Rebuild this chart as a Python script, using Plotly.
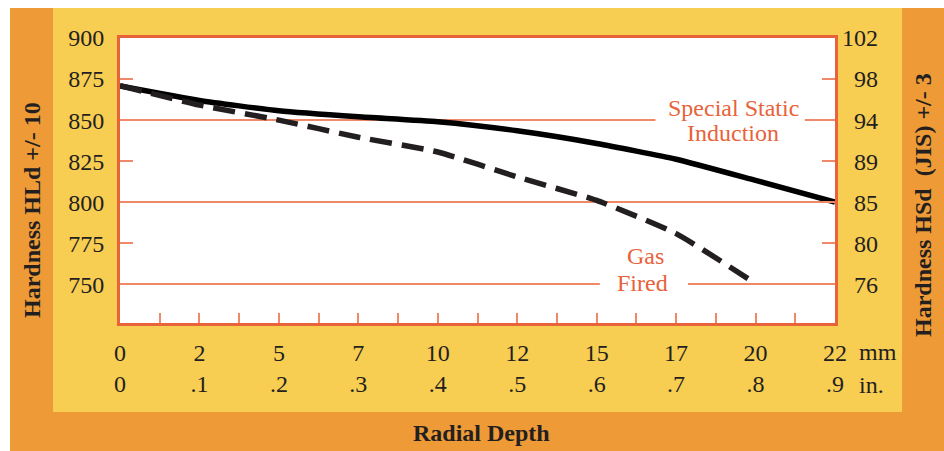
import plotly.graph_objects as go

# ---- data ----
depth_in = [0, 0.1, 0.2, 0.3, 0.4, 0.5, 0.6, 0.7, 0.8, 0.9]
mm_labels = ["0", "2", "5", "7", "10", "12", "15", "17", "20", "22"]
in_labels = ["0", ".1", ".2", ".3", ".4", ".5", ".6", ".7", ".8", ".9"]

induction_hld = [870.8, 862.0, 855.7, 852.0, 849.0, 843.5, 835.8, 826.2, 813.3, 800.1]
gas_depth_in = [0, 0.1, 0.2, 0.3, 0.4, 0.5, 0.6, 0.7, 0.8]
gas_hld = [871.0, 859.2, 850.0, 839.6, 830.6, 815.4, 801.1, 780.9, 750.5]

hld_ticks = [750, 775, 800, 825, 850, 875, 900]
hsd_labels = ["76", "80", "85", "89", "94", "98", "102"]
grid_vals = [750, 800, 850]

# ---- styles ----
ORANGE = "#EE9A36"
YELLOW = "#F7CD52"
AXIS_RED = "#E8623A"
GRID = "#F0896A"
TXT = "#231F20"
FONT = "Liberation Serif"

fig = go.Figure()

fig.add_trace(go.Scatter(
    x=depth_in, y=induction_hld, mode="lines",
    line=dict(color="black", width=5.5, shape="spline", smoothing=0.5),
    showlegend=False, hoverinfo="skip"))
fig.add_trace(go.Scatter(
    x=gas_depth_in, y=gas_hld, mode="lines",
    line=dict(color=TXT, width=5.5, shape="spline", smoothing=0.5, dash="22px,10px"),
    showlegend=False, hoverinfo="skip"))
# invisible trace to anchor the right axis
fig.add_trace(go.Scatter(x=[0], y=[800], yaxis="y2", mode="markers",
                         marker=dict(opacity=0), showlegend=False, hoverinfo="skip"))

W, H = 944, 451
L, R, T, B = 120, 835, 38, 323
pw, ph = R - L, B - T

def px_x(p):
    return (p - L) / pw

def px_y(p):
    return (B - p) / ph

shapes = [
    # orange frame
    dict(type="rect", xref="paper", yref="paper", x0=px_x(10), x1=px_x(960),
         y0=px_y(8), y1=px_y(470), fillcolor=ORANGE, line=dict(width=0), layer="below"),
    # yellow panel
    dict(type="rect", xref="paper", yref="paper", x0=px_x(53), x1=px_x(902),
         y0=px_y(8), y1=px_y(412), fillcolor=YELLOW, line=dict(width=0), layer="below"),
    # white plot area
    dict(type="rect", xref="paper", yref="paper", x0=0, x1=1, y0=0, y1=1,
         fillcolor="white", line=dict(width=0), layer="below"),
    # gaps in gridlines behind labels
    dict(type="rect", xref="x", yref="y", x0=0.674, x1=0.862, y0=848, y1=852,
         fillcolor="white", line=dict(width=0), layer="between"),
    dict(type="rect", xref="x", yref="y", x0=0.604, x1=0.715, y0=748, y1=752,
         fillcolor="white", line=dict(width=0), layer="between"),
]

lbl_font = dict(family=FONT, size=24, color=AXIS_RED)
title_font = dict(family=FONT, size=24, color=TXT)
annotations = [
    dict(text="Special Static", x=0.772, y=857.5, xref="x", yref="y", showarrow=False,
         font=lbl_font, xanchor="center", yanchor="middle"),
    dict(text="Induction", x=0.772, y=842.0, xref="x", yref="y", showarrow=False,
         font=lbl_font, xanchor="center", yanchor="middle"),
    dict(text="Gas", x=0.661, y=767.0, xref="x", yref="y", showarrow=False,
         font=lbl_font, xanchor="center", yanchor="middle"),
    dict(text="Fired", x=0.658, y=751.0, xref="x", yref="y", showarrow=False,
         font=lbl_font, xanchor="center", yanchor="middle"),
    dict(text="<b>Hardness HLd +/- 10</b>", textangle=-90, xref="paper", yref="paper",
         x=px_x(32), y=px_y(210), showarrow=False, font=title_font,
         xanchor="center", yanchor="middle"),
    dict(text="<b>Hardness HSd  (JIS) +/- 3</b>", textangle=-90, xref="paper", yref="paper",
         x=px_x(923), y=px_y(205), showarrow=False, font=title_font,
         xanchor="center", yanchor="middle"),
    dict(text="<b>Radial Depth</b>", xref="paper", yref="paper",
         x=px_x(481), y=px_y(433), showarrow=False, font=title_font,
         xanchor="center", yanchor="middle"),
    dict(text="mm", xref="paper", yref="paper", x=px_x(857), y=px_y(352),
         showarrow=False, font=dict(family=FONT, size=24, color=TXT),
         xanchor="left", yanchor="middle"),
    dict(text="in.", xref="paper", yref="paper", x=px_x(857), y=px_y(385),
         showarrow=False, font=dict(family=FONT, size=24, color=TXT),
         xanchor="left", yanchor="middle"),
]

tick_font = dict(family=FONT, size=24, color=TXT)

fig.update_layout(
    width=W, height=H,
    margin=dict(l=L, r=W - R, t=T, b=H - B, pad=0),
    paper_bgcolor="white", plot_bgcolor="white",
    shapes=shapes, annotations=annotations,
    xaxis=dict(
        range=[0, 0.9], tickmode="array", tickvals=depth_in,
        ticktext=[f"{m}<br>{i}" for m, i in zip(mm_labels, in_labels)],
        ticks="inside", ticklen=10, tickwidth=1.5, tickcolor=GRID,
        minor=dict(dtick=0.05, tick0=0, ticks="inside", ticklen=10, tickwidth=1.5,
                   tickcolor=GRID, showgrid=False),
        showgrid=False, zeroline=False,
        showline=True, linecolor=AXIS_RED, linewidth=3, mirror=True,
        tickfont=tick_font, ticklabelstandoff=6, fixedrange=True,
    ),
    yaxis=dict(
        range=[726.5, 900], tickmode="array", tickvals=hld_ticks,
        ticktext=[str(v) for v in hld_ticks],
        ticks="inside", ticklen=13, tickwidth=1.5, tickcolor=GRID,
        showgrid=False, zeroline=False,
        minor=dict(tickmode="array", tickvals=grid_vals, showgrid=True,
                   gridcolor=GRID, gridwidth=1.5, ticks=""),
        showline=True, linecolor=AXIS_RED, linewidth=3, mirror=True,
        tickfont=tick_font, ticklabelstandoff=8, fixedrange=True,
    ),
    yaxis2=dict(
        overlaying="y", side="right", range=[726.5, 900],
        tickmode="array", tickvals=hld_ticks,
        ticktext=[("\u2007" + s if len(s) == 2 else s) for s in hsd_labels],
        ticks="inside", ticklen=13, tickwidth=1.5, tickcolor=GRID,
        showgrid=False, zeroline=False, showline=False,
        tickfont=tick_font, ticklabelstandoff=6, fixedrange=True,
    ),
)

fig.write_html(
    "out.html",
    config={"displayModeBar": False},
    post_script="document.body.style.margin='0';document.body.style.padding='0';",
)
